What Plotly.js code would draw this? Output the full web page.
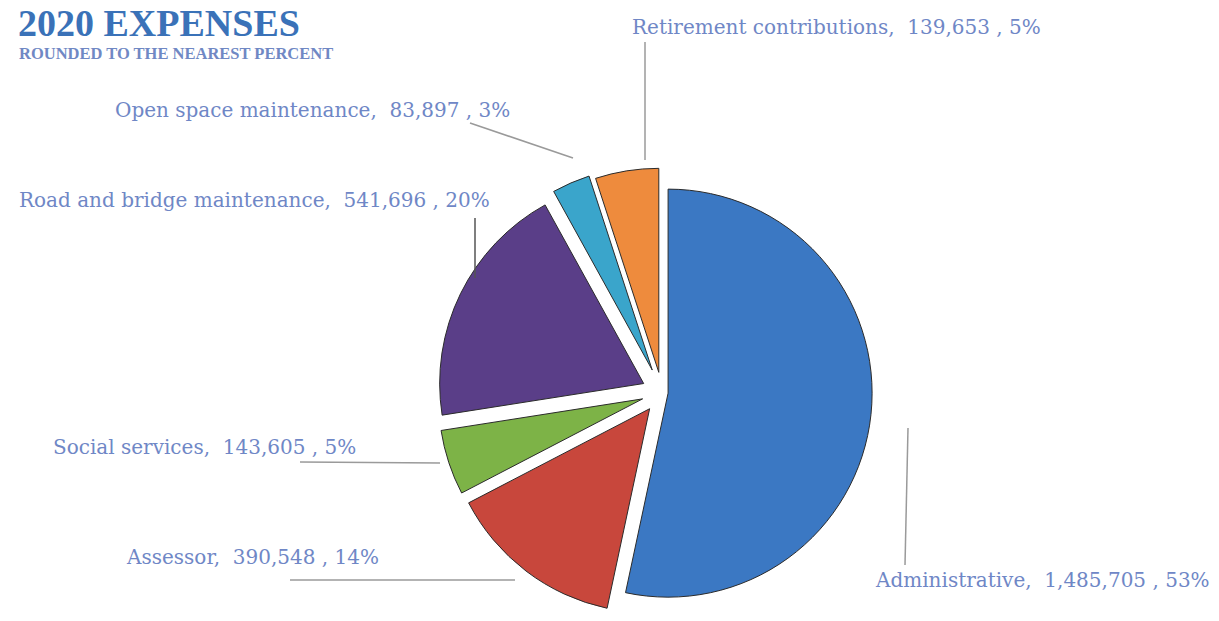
<!DOCTYPE html>
<html>
<head>
<meta charset="utf-8">
<script src="https://cdn.plot.ly/plotly-3.0.1.min.js"></script>
<style>
  html, body { margin: 0; padding: 0; background: #fff; }
  #chart { width: 1219px; height: 621px; }
</style>
</head>
<body>
<div id="chart"></div>
<script>
// 2020 expenses, clockwise from 12 o'clock
const categories = ['Administrative', 'Assessor', 'Social services',
  'Road and bridge maintenance', 'Open space maintenance', 'Retirement contributions'];
const amounts = [1485705, 390548, 143605, 541696, 83897, 139653];
const percentLabels = ['53%', '14%', '5%', '20%', '3%', '5%'];
const sliceColors = ['#3B78C3', '#C8473C', '#7DB347', '#5A3E88', '#3AA5CB', '#EE8B3D'];
const pulls = [0.03, 0.1, 0.1, 0.1, 0.12, 0.1];

const W = 1219, H = 621;
const px = x => x / W;
const py = y => 1 - y / H;

const labelColor = '#6F87C6';
const labelFont = { family: 'DejaVu Serif, serif', size: 20, color: labelColor };

// label anchor spots (pixels) and leader lines, in the same order as categories
const labelSpots = [
  { x: 873, y: 580, anchor: 'left' },
  { x: 381, y: 557, anchor: 'right' },
  { x: 358, y: 447, anchor: 'right' },
  { x: 492, y: 200, anchor: 'right' },
  { x: 512, y: 110, anchor: 'right' },
  { x: 630, y: 27, anchor: 'left' }
];
const leaders = [
  [[908, 428], [905, 565], '#9a9a9a'],
  [[290, 580], [515, 580], '#9a9a9a'],
  [[300, 462], [440, 463], '#9a9a9a'],
  [[475, 218], [475, 278], '#555555'],
  [[470, 123], [573, 158], '#9a9a9a'],
  [[645, 42], [645, 160], '#9a9a9a']
];

const fmt = n => n.toLocaleString('en-US');

const annotations = categories.map((c, i) => ({
  text: `${c},  ${fmt(amounts[i])} , ${percentLabels[i]}`,
  x: px(labelSpots[i].x), y: py(labelSpots[i].y),
  xref: 'paper', yref: 'paper',
  xanchor: labelSpots[i].anchor, yanchor: 'middle',
  showarrow: false,
  font: labelFont
}));

annotations.push({
  text: '<b>2020 EXPENSES</b>',
  x: px(16), y: 1, xref: 'paper', yref: 'paper',
  xanchor: 'left', yanchor: 'top', showarrow: false,
  font: { family: 'Liberation Serif, serif', size: 38, color: '#3A72B8' }
});
annotations.push({
  text: '<b>ROUNDED TO THE NEAREST PERCENT</b>',
  x: px(17), y: py(53), xref: 'paper', yref: 'paper',
  xanchor: 'left', yanchor: 'middle', showarrow: false,
  font: { family: 'Liberation Serif, serif', size: 16.5, color: '#7088C4' }
});

const shapes = leaders.map(([a, b, col]) => ({
  type: 'line', xref: 'paper', yref: 'paper',
  x0: px(a[0]), y0: py(a[1]), x1: px(b[0]), y1: py(b[1]),
  line: { color: col, width: 1.5 }
}));

const trace = {
  type: 'pie',
  labels: categories,
  values: amounts,
  sort: false,
  direction: 'clockwise',
  rotation: 0,
  pull: pulls,
  textinfo: 'none',
  hoverinfo: 'label+value+percent',
  marker: { colors: sliceColors, line: { color: '#2b2b2b', width: 1 } },
  domain: { x: [px(662 - 232), px(662 + 232)], y: [py(396 + 232), py(396 - 232)] },
  showlegend: false
};

const layout = {
  width: W,
  height: H,
  margin: { t: 0, r: 0, b: 0, l: 0 },
  paper_bgcolor: '#FFFFFF',
  plot_bgcolor: '#FFFFFF',
  showlegend: false,
  annotations,
  shapes
};

Plotly.newPlot('chart', [trace], layout, { displayModeBar: false, responsive: false });
</script>
</body>
</html>
